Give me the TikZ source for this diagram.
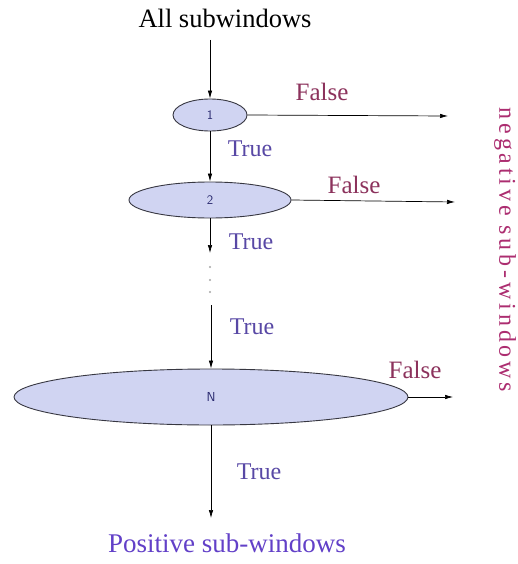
\documentclass[tikz,border=0pt]{standalone}
\usepackage{fontspec}
\setmainfont{Liberation Serif}
\newfontfamily\negfont[LetterSpace=16]{Liberation Serif}
\usetikzlibrary{arrows.meta,shapes.geometric}
\definecolor{falsecol}{RGB}{140,50,92}
\definecolor{truecol}{RGB}{88,72,165}
\definecolor{poscol}{RGB}{98,64,200}
\definecolor{negcol}{RGB}{172,45,112}
\definecolor{ellfill}{RGB}{208,212,242}
\definecolor{ellline}{RGB}{55,55,65}
\definecolor{numcol}{RGB}{40,40,110}
\begin{document}
\begin{tikzpicture}[x=1pt,y=-1pt,
  stage/.style={ellipse,draw=ellline,fill=ellfill,line width=0.9pt,inner sep=0pt,
    font=\sffamily\fontsize{13}{14}\selectfont,text=numcol},
  arr/.style={-{Latex[length=8pt,width=4.5pt]},line width=0.7pt,black},
  truelab/.style={text=truecol,font=\fontsize{24}{26}\selectfont,inner sep=0pt},
  falselab/.style={text=falsecol,font=\fontsize{25}{27}\selectfont,inner sep=0pt},
  dotmark/.style={circle,fill=black!35,inner sep=0pt,minimum size=2.2pt}]
\useasboundingbox (0,0) rectangle (518,564);
\fill[white] (0,0) rectangle (518,564);
% nodes
\node[inner sep=0pt,font=\fontsize{26.5}{28}\selectfont] (top) at (225,18) {All subwindows};
\coordinate (topend) at (210,40);
\node[stage,minimum width=74pt,minimum height=32pt] (e1) at (210,115) {1};
\node[stage,minimum width=162pt,minimum height=36pt] (e2) at (210,200) {2};
\node[stage,minimum width=394pt,minimum height=56pt] (e3) at (211,397) {N};
\coordinate (d0) at (210,253);
\node[dotmark] (p1) at (210,267) {};
\node[dotmark] (p2) at (210,280) {};
\node[dotmark] (p3) at (210,292) {};
\coordinate (d1) at (211,305);
\node[inner sep=0pt,text=poscol,font=\fontsize{27}{29}\selectfont] (pos) at (227,543) {Positive sub-windows};
\coordinate (f1) at (448,116);
\coordinate (f2) at (455,202);
\coordinate (f3) at (453,397);
\node[rotate=-90,inner sep=0pt,text=negcol,font=\negfont\fontsize{24}{26}\selectfont] (neg) at (505,250) {negative sub-windows};
% labels
\node[falselab] (fl1) at (322,92) {False};
\node[falselab] (fl2) at (354,185) {False};
\node[falselab] (fl3) at (415,370) {False};
\node[truelab] (tl1) at (250,149) {True};
\node[truelab] (tl2) at (251,242) {True};
\node[truelab] (tl3) at (252,327) {True};
\node[truelab] (tl4) at (259,472) {True};
% connectors
\draw[arr] (topend) -- (e1.north);
\draw[arr] (e1.south) -- (e2.north);
\draw[arr] (e2.south) -- (d0);
\draw[arr] (d1) -- (e3.north);
\draw[arr] (e3.south) -- (e3.south |- 0,518);
\draw[arr] (e1.east) -- (f1);
\draw[arr] (e2.east) -- (f2);
\draw[arr] (e3.east) -- (f3);
\end{tikzpicture}
\end{document}
